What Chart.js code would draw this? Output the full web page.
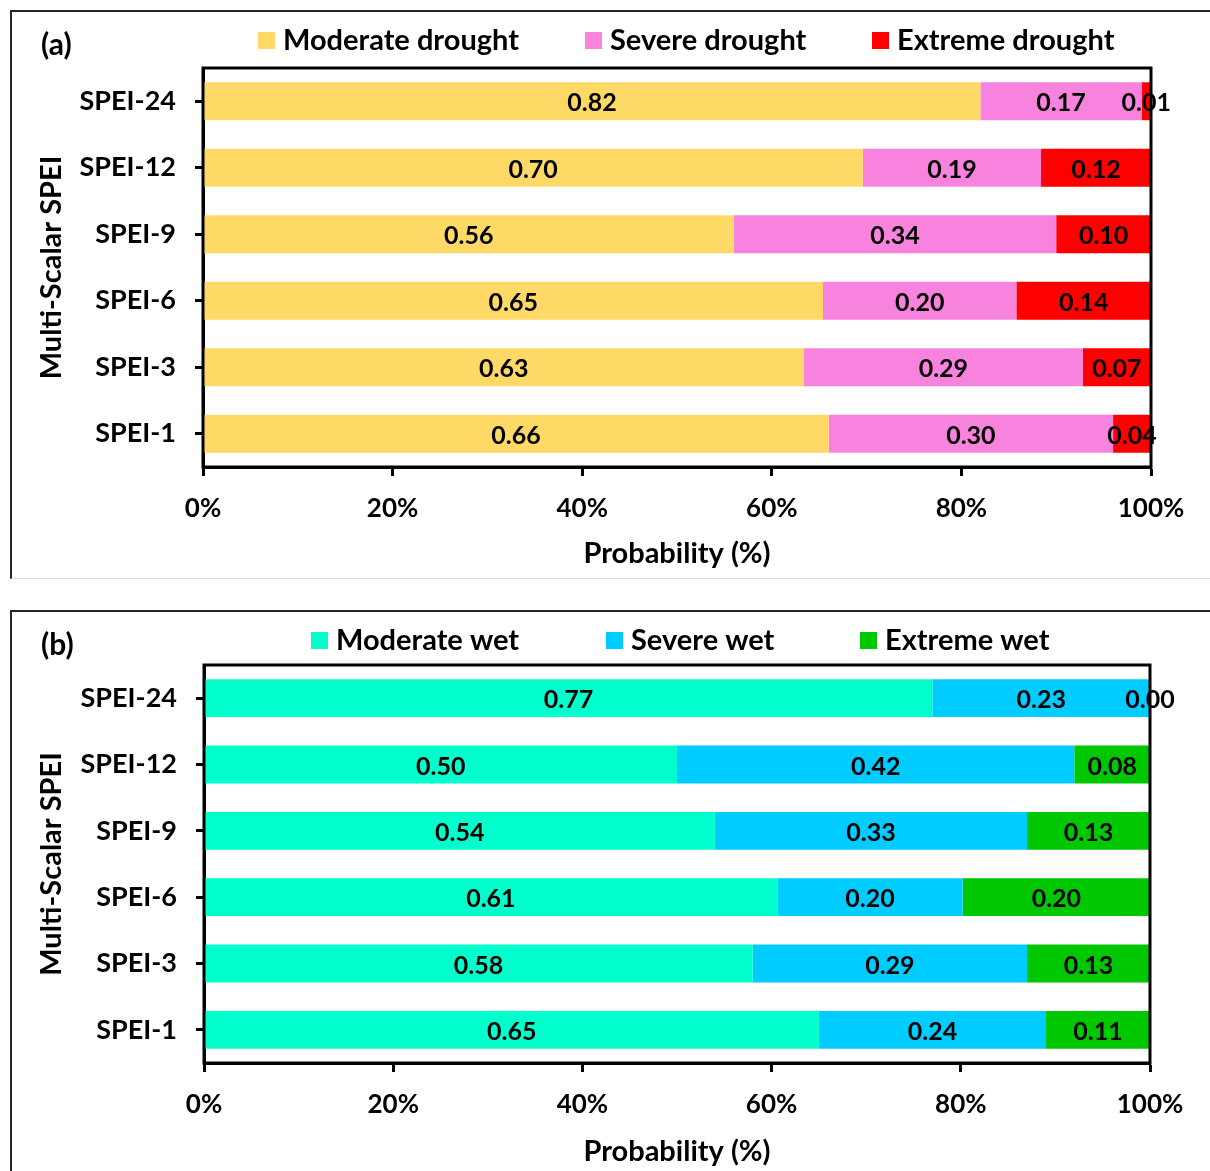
<!DOCTYPE html>
<html>
<head>
<meta charset="utf-8">
<script src="https://cdn.jsdelivr.net/npm/chart.js@4.4.0/dist/chart.umd.min.js"></script>
<style>
  html, body { margin: 0; padding: 0; overflow: hidden; background: #fff; width: 1210px; height: 1171px; }
  .box { position: absolute; left: 10px; width: 1210px; border-left: 2px solid #262626; border-top: 2px solid #262626; }
  #boxA { top: 10px; height: 566px; border-bottom: 1px solid #d9d9d9; }
  #boxB { top: 610px; height: 600px; }
  canvas { position: absolute; left: 0; }
  #chartA { top: 0; }
  #chartB { top: 597px; }
</style>
</head>
<body>
<div class="box" id="boxA"></div>
<div class="box" id="boxB"></div>
<canvas id="chartA" width="1210" height="580"></canvas>
<canvas id="chartB" width="1210" height="574"></canvas>
<script>
// categories (top to bottom)
const spei = ["SPEI-24", "SPEI-12", "SPEI-9", "SPEI-6", "SPEI-3", "SPEI-1"];
const xTicks = [0, 0.2, 0.4, 0.6, 0.8, 1];

// (a) drought probabilities
const droughtNames = ["Moderate drought", "Severe drought", "Extreme drought"];
const moderateDrought = [0.82, 0.696, 0.56, 0.654, 0.634, 0.66];
const severeDrought = [0.17, 0.188, 0.34, 0.204, 0.294, 0.30];
const extremeDrought = [0.01, 0.116, 0.10, 0.142, 0.072, 0.04];

// (b) wet probabilities
const wetNames = ["Moderate wet", "Severe wet", "Extreme wet"];
const moderateWet = [0.77, 0.50, 0.54, 0.606, 0.58, 0.65];
const severeWet = [0.23, 0.42, 0.33, 0.196, 0.29, 0.24];
const extremeWet = [0.00, 0.08, 0.13, 0.198, 0.13, 0.11];

const FONT = "Lato";

// frame, value labels, legend and panel letter
const decoPlugin = {
  id: "deco",
  afterDatasetsDraw(chart, args, opts) {
    const { ctx, chartArea: a } = chart;
    ctx.save();
    ctx.strokeStyle = "#000";
    ctx.lineWidth = 3;
    ctx.strokeRect(a.left, a.top, a.right - a.left, a.bottom - a.top);

    ctx.fillStyle = "#000";
    ctx.textAlign = "center";
    ctx.textBaseline = "middle";
    ctx.font = "bold 25px " + FONT;
    chart.data.datasets.forEach((ds, i) => {
      chart.getDatasetMeta(i).data.forEach((bar, j) => {
        ctx.fillText(ds.data[j].toFixed(2), (bar.x + bar.base) / 2, bar.y + 2);
      });
    });

    // legend
    ctx.font = "bold 29px " + FONT;
    ctx.textAlign = "left";
    chart.data.datasets.forEach((ds, i) => {
      const x = opts.legendX[i];
      ctx.fillStyle = ds.backgroundColor;
      ctx.fillRect(x, opts.legendY - 8, 17, 17);
      ctx.fillStyle = "#000";
      ctx.fillText(ds.label, x + 25, opts.legendY + 1);
    });

    ctx.font = "bold 30px " + FONT;
    ctx.fillText(opts.letter, 41, opts.letterY);
    ctx.restore();
  }
};

function makePanel(id, names, series, colors, p) {
  const datasets = series.map((d, i) => ({
    label: names[i],
    data: d,
    backgroundColor: colors[i],
    borderWidth: 0,
    barPercentage: 0.57,
    categoryPercentage: 1
  }));
  new Chart(document.getElementById(id), {
    type: "bar",
    data: { labels: spei, datasets: datasets },
    plugins: [decoPlugin],
    options: {
      responsive: false,
      animation: false,
      indexAxis: "y",
      layout: { padding: { top: p.top, right: p.right, left: 0, bottom: 0 } },
      plugins: {
        legend: { display: false },
        tooltip: { enabled: false },
        deco: { legendX: p.legendX, legendY: p.legendY, letter: p.letter, letterY: p.letterY }
      },
      scales: {
        x: {
          stacked: true,
          min: 0,
          max: 1,
          afterBuildTicks: (s) => { s.ticks = xTicks.map((v) => ({ value: v })); },
          afterFit: (s) => { s.height = p.xHeight; },
          ticks: {
            color: "#000",
            padding: 17,
            maxRotation: 0,
            font: { family: FONT, size: 26, weight: "bold" },
            callback: (v) => Math.round(v * 100) + "%"
          },
          grid: { drawOnChartArea: false, drawTicks: true, tickLength: 9, tickColor: "#000", tickWidth: 3 },
          border: { color: "#000", width: 3 },
          title: {
            display: true,
            text: "Probability (%)",
            color: "#000",
            font: { family: FONT, size: 29, weight: "bold" },
            padding: { top: 0, bottom: p.titlePad }
          }
        },
        y: {
          stacked: true,
          afterFit: (s) => { s.width = p.left; },
          ticks: {
            color: "#000",
            padding: 19,
            font: { family: FONT, size: 27, weight: "bold" }
          },
          grid: { drawOnChartArea: false, offset: false, drawTicks: true, tickLength: 8, tickColor: "#000", tickWidth: 3 },
          border: { color: "#000", width: 3 },
          title: {
            display: true,
            text: "Multi-Scalar SPEI",
            color: "#000",
            font: { family: FONT, size: 29, weight: "bold" },
            padding: { top: 34, bottom: 0 }
          }
        }
      }
    }
  });
}

makePanel("chartA", droughtNames, [moderateDrought, severeDrought, extremeDrought],
  ["#FFD966", "#F783DF", "#FF0000"],
  { top: 68, right: 59, left: 203, xHeight: 113, titlePad: 9, legendX: [258, 585, 872], legendY: 40, letter: "(a)", letterY: 45 });

makePanel("chartB", wetNames, [moderateWet, severeWet, extremeWet],
  ["#00FFCC", "#00CCFF", "#00C800"],
  { top: 68, right: 60, left: 204, xHeight: 108, titlePad: 2, legendX: [311, 606, 860], legendY: 43, letter: "(b)", letterY: 48 });
</script>
</body>
</html>
